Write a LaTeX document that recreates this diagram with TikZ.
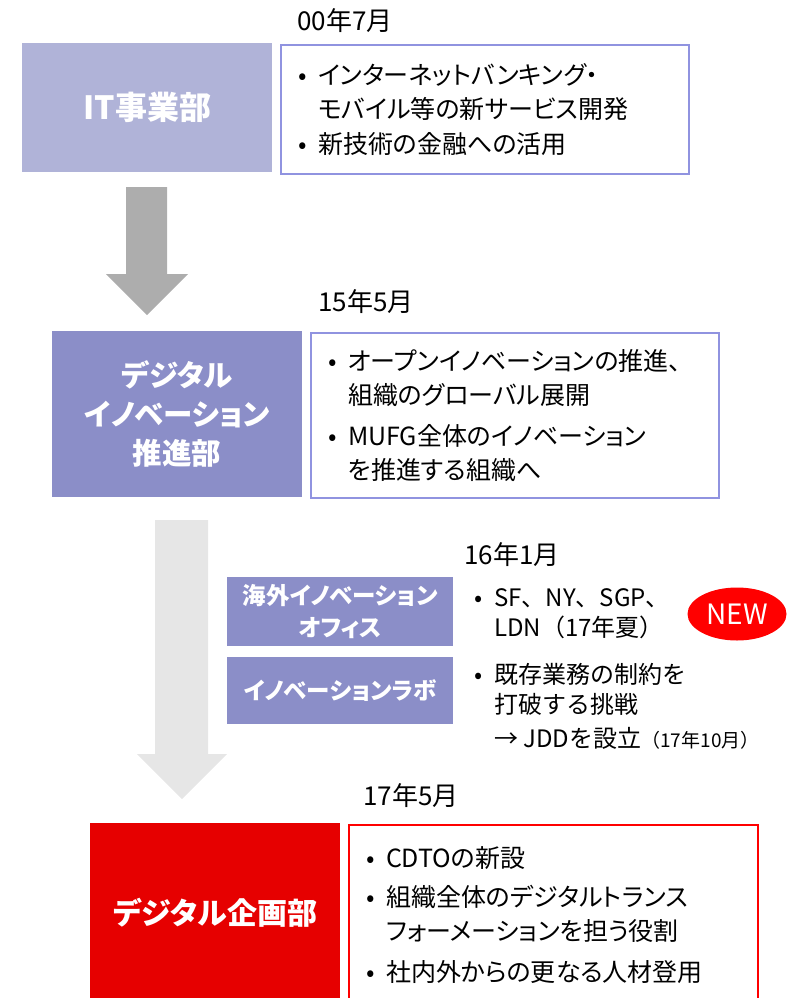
\documentclass[tikz,border=0pt]{standalone}
\usepackage{fontspec}
\setmainfont{Noto Sans CJK JP}[RawFeature=+palt]
\newfontfamily\widejp{Noto Sans CJK JP}
\usepackage{tikz}
\usetikzlibrary{shapes,positioning,calc}

\definecolor{itlav}{HTML}{B0B3D8}
\definecolor{innov}{HTML}{8B8EC8}
\definecolor{frame}{HTML}{9093E0}
\definecolor{arrdark}{HTML}{ADADAD}
\definecolor{arrlight}{HTML}{E6E6E6}
\definecolor{deptred}{HTML}{E60000}
\definecolor{newred}{HTML}{FF0000}

\newcommand{\itm}[1]{\makebox[20pt][l]{•}#1}
\newcommand{\cnt}{\hspace*{20pt}}

\begin{document}
\begin{tikzpicture}[x=1pt,y=-1pt,
  dept/.style={fill=#1, text=white, align=center, inner sep=0pt,
    anchor=north west},
  subdept/.style={fill=innov, text=white, align=center, inner sep=0pt,
    font=\bfseries\fontsize{23.5}{32}\selectfont, anchor=north west,
    minimum width=226pt},
  infobox/.style={draw=#1, line width=2pt, fill=white, anchor=north west,
    align=left, inner xsep=17pt, inner ysep=0pt,
    font=\fontsize{25}{34}\selectfont},
  date/.style={anchor=west, inner sep=0pt, font=\fontsize{26}{30}\selectfont},
  plain/.style={anchor=north west, align=left, inner sep=0pt,
    font=\widejp\fontsize{24}{30}\selectfont}]
\useasboundingbox (0,0) rectangle (792,998);

% arrows
\fill[arrdark] (126,187) -- (167,187) -- (167,274) -- (188,274) -- (147,315)
  -- (106,274) -- (126,274) -- cycle;
\fill[arrlight] (155,520) -- (208,520) -- (208,754) -- (227,754) -- (182,799)
  -- (137,754) -- (155,754) -- cycle;

% 00年7月
\node[date] (d00) at (297,21) {00年7月};
\node[dept=itlav, minimum width=250pt, minimum height=129pt,
  font=\bfseries\fontsize{32}{40}\selectfont] (it) at (22,43) {IT事業部};
\node[infobox=frame, minimum height=129pt, text width=374pt] (itinfo) at (280,44)
  {\itm{インターネットバンキング・}\\
   \cnt モバイル等の新サービス開発\\[1pt]
   \itm{新技術の金融への活用}};

% 15年5月
\node[date] (d15) at (318,302) {15年5月};
\node[dept=innov, minimum width=250pt, minimum height=166pt,
  font=\bfseries\fontsize{29.5}{39}\selectfont] (dig) at (52,331)
  {デジタル\\イノベーション\\推進部};
\node[infobox=frame, minimum height=165pt, text width=374pt] (diginfo) at (310,332)
  {\itm{オープンイノベーションの推進、}\\
   \cnt 組織のグローバル展開\\[7pt]
   \itm{MUFG全体のイノベーション}\\
   \cnt を推進する組織へ};

% 16年1月
\node[date] (d16) at (464,555) {16年1月};
\node[subdept, minimum height=69pt] (ovs) at (227,577) {海外イノベーション\\オフィス};
\node[subdept, minimum height=67pt] (lab) at (227,657) {イノベーションラボ};
\node[plain] (ovsinfo) at (474,588)
  {\itm{SF、NY、SGP、}\\
   \cnt LDN（17年夏）};
\node[plain] (labinfo) at (474,663)
  {\itm{既存業務の制約を}\\
   \cnt 打破する挑戦\\[4pt]
   \cnt → JDDを設立{\fontsize{19}{22}\selectfont（17年10月）}};
\node[ellipse, fill=newred, text=white, minimum width=99pt, minimum height=53pt,
  inner sep=0pt, font=\fontsize{28}{30}\selectfont] (new) at (737,614) {NEW};

% 17年5月
\node[date] (d17) at (363,796) {17年5月};
\node[dept=deptred, minimum width=250pt, minimum height=180pt,
  font=\bfseries\fontsize{30}{39}\selectfont] (plan) at (90,823)
  {デジタル企画部};
\node[infobox=newred, minimum height=180pt, text width=375pt] (planinfo) at (348,824)
  {\itm{CDTOの新設}\\[5pt]
   \itm{組織全体のデジタルトランス}\\
   \cnt フォーメーションを担う役割\\[7pt]
   \itm{社内外からの更なる人材登用}};
\end{tikzpicture}
\end{document}
